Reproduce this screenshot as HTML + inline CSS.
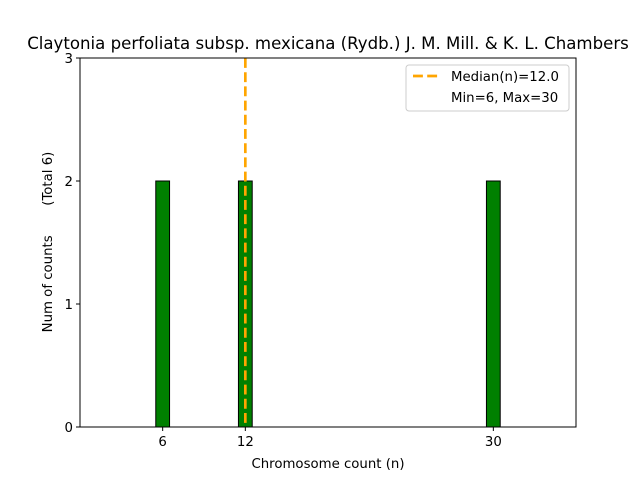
<!DOCTYPE html>
<html><head><meta charset="utf-8"><style>
body{margin:0;background:#fff;}
svg{font-family:"DejaVu Sans","Liberation Sans",sans-serif;}
</style></head><body>
<svg id="chart" width="640" height="480">
<rect width="640" height="480" fill="#fff"/>
<text x="328" y="49" font-size="16.6" text-anchor="middle">Claytonia perfoliata subsp. mexicana (Rydb.) J. M. Mill. &amp; K. L. Chambers</text>
<g id="bars"></g>
<g id="xticks"></g>
<g id="yticks"></g>
<rect x="80" y="58" width="496" height="369" fill="none" stroke="#000" stroke-width="1"/>
<text x="328" y="468" font-size="13.3" text-anchor="middle">Chromosome count (n)</text>
<text transform="translate(52,242) rotate(-90)" font-size="13.3" text-anchor="middle">Num of counts&#160;&#160;&#160;&#160;&#160;&#160;&#160;(Total 6)</text>
<g>
<rect x="406" y="65" width="163" height="46" fill="#fff" fill-opacity="0.8" stroke="#ccc" rx="3"/>
<line x1="413" y1="76" x2="441" y2="76" stroke="orange" stroke-width="2.67" stroke-dasharray="9.9,4.3"/>
<text x="451" y="81" font-size="13.3">Median(n)=12.0</text>
<text x="451" y="102" font-size="13.3">Min=6, Max=30</text>
</g>
</svg>
<script>
const categories=[6,12,30];
const counts=[2,2,2];
const xTickLabels=["6","12","30"];
const yTickLabels=["0","1","2","3"];
const medianValue=12;
const svgNS="http://www.w3.org/2000/svg";
const X=v=>80+(v-0)/36*496;
const Y=v=>427-v/3*369;
const bars=document.getElementById('bars');
function mk(t,a,p){const e=document.createElementNS(svgNS,t);for(const k in a)e.setAttribute(k,a[k]);p.appendChild(e);return e;}
const base=mk('line',{x1:X(5.5),x2:X(33.5),y1:Y(0),y2:Y(0),stroke:'#000'},bars);


categories.forEach((c,i)=>{
 const r=mk('rect',{x:X(c-0.5),y:Y(counts[i]),width:X(c+0.5)-X(c-0.5),height:Y(0)-Y(counts[i]),fill:'green',stroke:'#000'},bars);
 
 
});
const med=mk('line',{x1:X(medianValue),x2:X(medianValue),y1:Y(3),y2:Y(0),stroke:'orange','stroke-width':2.67,'stroke-dasharray':'9.9,4.3'},bars);


const xt=document.getElementById('xticks');
categories.forEach((c,i)=>{
 mk('line',{x1:X(c),x2:X(c),y1:427,y2:431,stroke:'#000'},xt);
 const t=mk('text',{x:X(c),y:446,'font-size':13.3,'text-anchor':'middle'},xt);
 t.textContent=xTickLabels[i];
 
 
});
const yt=document.getElementById('yticks');
yTickLabels.forEach((l,i)=>{
 const v=+l;
 mk('line',{x1:76,x2:80,y1:Y(v),y2:Y(v),stroke:'#000'},yt);
 const t=mk('text',{x:73,y:Y(v)+5,'font-size':13.3,'text-anchor':'end'},yt);
 t.textContent=l;
 
 
});
</script>
</body></html>
